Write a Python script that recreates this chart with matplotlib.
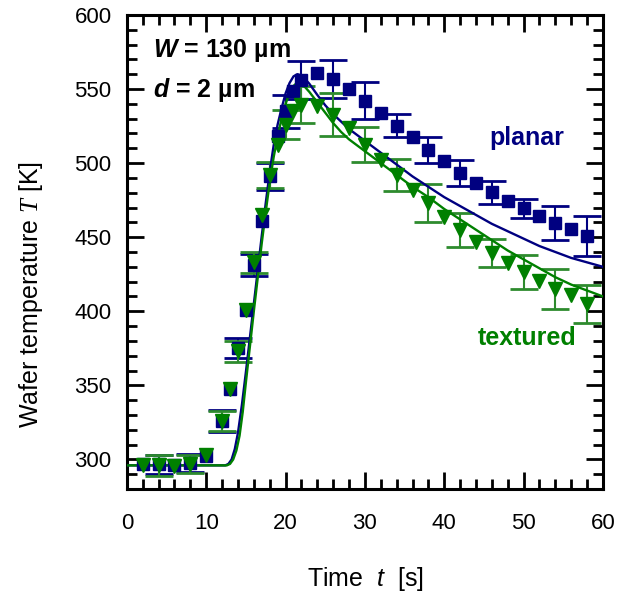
import matplotlib
matplotlib.use("Agg")
import matplotlib.pyplot as plt
from matplotlib.ticker import MultipleLocator

plt.rcParams['font.family'] = ['Liberation Sans', 'DejaVu Sans']
plt.rcParams['mathtext.fontset'] = 'custom'
plt.rcParams['mathtext.rm'] = 'Liberation Sans'
plt.rcParams['mathtext.it'] = 'Liberation Sans:italic:bold'
plt.rcParams['mathtext.bf'] = 'Liberation Sans:bold'
plt.rcParams['mathtext.cal'] = 'Liberation Serif:italic'
plt.rcParams['mathtext.sf'] = 'Liberation Sans:italic'

# measured points
t_meas = [2, 4, 6, 8, 10, 12, 13, 14, 15, 16, 17, 18, 19, 20, 21, 22,
          24, 26, 28, 30, 32, 34, 36, 38, 40, 42, 44, 46, 48, 50, 52, 54, 56, 58]
T_planar = [296.6, 296.6, 296, 297.8, 302.2, 325.8, 347.7, 375.3, 401, 431.5, 460.7, 491,
            518, 535, 548.3, 556.2,
            560.8, 556.7, 550, 542, 533.8, 525.2, 517.3, 509, 501.1, 493.3, 486.6,
            480.2, 474.6, 469.5, 464.5, 459.6, 455.6, 451]
T_textured = [296, 296, 295.5, 297, 303, 326, 347.7, 373, 401, 433, 465, 492,
              512.4, 526, 534.9, 539.4,
              538.2, 532.6, 523.7, 512.4, 502.3, 492, 482, 473, 463.6, 455, 446.8,
              439.4, 432.6, 426.3, 420.2, 415, 411, 405]

# error bars (only on some points)
t_err = [4, 8, 12, 14, 16, 18, 20, 22, 26, 30, 34, 38, 42, 46, 50, 54, 58]
err_planar = [6.7, 6, 7.3, 6.7, 7.4, 9, 11, 13, 13, 12.6, 7.6, 8.8, 8.7, 7.9, 6.4, 11.7, 13.5]
err_textured = [7, 6, 7, 7, 7, 9, 10, 12.5, 14.6, 12, 10.6, 12.6, 11.5, 9.4, 11.5, 13.3, 13]

# simulated curves
t_sim_planar = [0, 12.4, 12.8, 13.2, 13.6, 14.0, 14.5, 15.0, 15.5, 16.0, 16.5, 17.0, 17.5, 18.0,
                18.5, 19.0, 19.5, 20.0, 20.5, 21.0, 21.5, 22.0, 22.5, 23.0, 24.0, 25.0, 26.0,
                27.0, 28.0, 30, 32, 34, 36, 38, 40, 42, 44, 46, 48, 50, 52, 54, 56, 58, 60]
T_sim_planar = [296, 296, 297, 300, 307, 318, 337, 359, 382, 405, 428, 451, 473, 494,
                512, 526, 537, 547, 554, 558.5, 560, 559, 556.5, 553.5, 546, 539, 533,
                528, 523, 515, 507, 499, 491, 484, 477, 471, 465, 459, 454, 449, 444, 440, 436, 433, 430]
t_sim_textured = [0, 12.6, 13.0, 13.4, 13.8, 14.2, 14.6, 15.0, 15.5, 16.0, 16.5, 17.0, 17.5, 18.0,
                  18.5, 19.0, 19.5, 20.0, 20.5, 21.0, 21.5, 22.0, 22.5, 23.0, 24.0, 25.0, 26.0,
                  27.0, 28.0, 30, 32, 34, 36, 38, 40, 42, 44, 46, 48, 50, 52, 54, 56, 58, 60]
T_sim_textured = [296, 296, 297, 300, 306, 316, 332, 352, 376, 400, 423, 446, 467, 487,
                  504, 518, 530, 540, 547, 552, 554.5, 553.5, 551, 548, 541, 534, 527,
                  521, 516, 508, 500, 492, 484, 477, 469, 462, 455, 448, 441, 435, 429, 423, 418, 414, 410]

navy = '#000080'
green = '#008000'
green_bar = '#2e8b2e'

fig = plt.figure(figsize=(6.19, 5.95), dpi=100)
ax = fig.add_axes([0.205, 0.178, 0.769, 0.797])

#error bars first
ax.errorbar(t_err, [T_planar[t_meas.index(t)] for t in t_err], yerr=err_planar,
            fmt='none', ecolor=navy, elinewidth=1.5, capsize=10, capthick=2, zorder=2)
ax.errorbar(t_err, [T_textured[t_meas.index(t)] for t in t_err], yerr=err_textured,
            fmt='none', ecolor=green_bar, elinewidth=1.5, capsize=10, capthick=2, zorder=2)

#lines
ax.plot(t_sim_planar, T_sim_planar, color=navy, lw=1.7, zorder=3)
ax.plot(t_sim_textured, T_sim_textured, color=green, lw=1.7, zorder=3)

#markers
ax.plot(t_meas, T_planar, 's', color=navy, ms=8, mec=navy, zorder=4)
ax.plot(t_meas, T_textured, 'v', color=green, ms=10, mec=green, zorder=5)

ax.set_xlim(0, 60)
ax.set_ylim(280, 600)
ax.xaxis.set_major_locator(MultipleLocator(10))
ax.xaxis.set_minor_locator(MultipleLocator(2))
ax.yaxis.set_major_locator(MultipleLocator(50))
ax.yaxis.set_minor_locator(MultipleLocator(10))
ax.set_yticks([300, 350, 400, 450, 500, 550, 600])
ax.tick_params(which='both', direction='in', top=True, right=True, width=2, labelsize=16)
ax.tick_params(which='major', length=12)
ax.tick_params(which='minor', length=7)
ax.tick_params(axis='x', which='major', pad=17)
ax.tick_params(axis='y', which='major', pad=11)
for s in ax.spines.values():
    s.set_linewidth(2.2)

ax.set_xlabel('Time  $\\mathsf{t}$  [s]', fontsize=18)
ax.set_ylabel('Wafer temperature $\\mathcal{T}$ [K]', fontsize=18)
ax.xaxis.set_label_coords(0.502, -0.16)
ax.yaxis.set_label_coords(-0.172, 0.41)

ax.text(3.3, 576, '$W$ = 130 µm', fontsize=18, fontweight='bold', va='center')
ax.text(3.3, 549, '$d$ = 2 µm', fontsize=18, fontweight='bold', va='center')
ax.text(50.4, 517, 'planar', fontsize=18, fontweight='bold', color=navy, ha='center', va='center')
ax.text(50.4, 382, 'textured', fontsize=18, fontweight='bold', color=green, ha='center', va='center')

fig.savefig('out.png', dpi=100)
